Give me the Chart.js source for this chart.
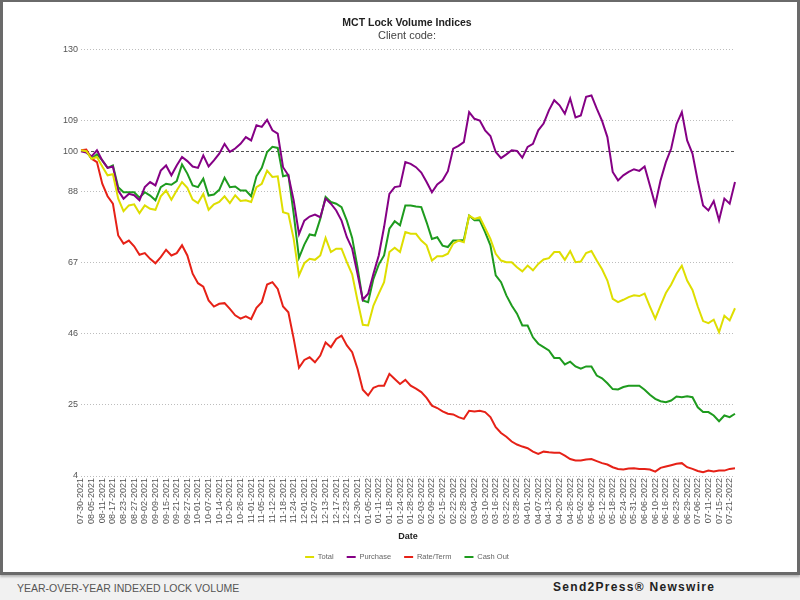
<!DOCTYPE html>
<html>
<head>
<meta charset="utf-8">
<script src="https://cdn.jsdelivr.net/npm/chart.js@4.4.1/dist/chart.umd.min.js"></script>
<style>
  html, body { margin: 0; padding: 0; width: 800px; height: 600px; overflow: hidden; background: #f1f1f1; font-family: 'Liberation Sans', Arial, sans-serif; }
  #card { position: absolute; left: 0; top: 0; width: 800px; height: 575px; box-sizing: border-box; background: #fff; border: 3px solid #6a6a6a; border-top-width: 2px; box-shadow: 0 2px 2px #b8b8b8; }
  #wrap { position: absolute; left: 3px; top: 2px; width: 794px; height: 570px; }
  #footer-left { position: absolute; left: 17px; top: 582px; font-size: 10.5px; color: #555; }
  #footer-right { position: absolute; left: 553px; top: 580px; font-size: 12px; font-weight: bold; letter-spacing: 1.3px; color: #222; }
</style>
</head>
<body>
<div id="card"></div>
<div id="wrap"><canvas id="lockChart"></canvas></div>
<div id="footer-left">YEAR-OVER-YEAR INDEXED LOCK VOLUME</div>
<div id="footer-right">Send2Press® Newswire</div>
<script>
// every 4th business day gets a tick label, data is sampled every 2nd business day
const tickLabels = [
    '07-30-2021', '08-05-2021', '08-11-2021', '08-17-2021', '08-23-2021', '08-27-2021',
    '09-02-2021', '09-09-2021', '09-15-2021', '09-21-2021', '09-27-2021',
    '10-01-2021', '10-07-2021', '10-14-2021', '10-20-2021', '10-26-2021',
    '11-01-2021', '11-05-2021', '11-12-2021', '11-18-2021', '11-24-2021',
    '12-01-2021', '12-07-2021', '12-13-2021', '12-17-2021', '12-23-2021', '12-30-2021',
    '01-05-2022', '01-11-2022', '01-18-2022', '01-24-2022', '01-28-2022',
    '02-03-2022', '02-09-2022', '02-15-2022', '02-22-2022', '02-28-2022',
    '03-04-2022', '03-10-2022', '03-16-2022', '03-22-2022', '03-28-2022',
    '04-01-2022', '04-07-2022', '04-13-2022', '04-20-2022', '04-26-2022',
    '05-02-2022', '05-06-2022', '05-12-2022', '05-18-2022', '05-24-2022', '05-31-2022',
    '06-06-2022', '06-10-2022', '06-16-2022', '06-23-2022', '06-29-2022',
    '07-06-2022', '07-11-2022', '07-15-2022', '07-21-2022'
];

const yTicks = [4, 25, 46, 67, 88, 100, 109, 130];

const total = [
    100.3, 100, 97.8, 98.3, 95.5, 92.9, 93.2, 86, 82.3, 84,
    84.3, 81.7, 84, 83, 82.7, 86.7, 88.4, 85.7, 88.4, 90.9,
    89.2, 85.7, 84.7, 87.4, 82.7, 84.3, 85, 86.7, 84.7, 87,
    85.3, 85.5, 85, 89.4, 90.4, 94.3, 92.4, 92.6, 82, 81.5,
    74.1, 63.3, 66.9, 68.2, 67.9, 69.2, 74.4, 70.2, 71.2, 71.2,
    67.2, 63.6, 55.9, 48.7, 48.5, 54.4, 57.9, 61.3, 70.2, 71.5,
    70.2, 76.1, 75.6, 75.6, 73.6, 72.2, 67.7, 69, 69, 69.7,
    72.7, 73.6, 73.1, 81, 80, 80.5, 77.3, 74.1, 69.7, 67.7,
    67.2, 67.2, 65.7, 64.5, 66.2, 64.8, 66.7, 68, 68.4, 70.2,
    70.2, 67.9, 70.5, 67.2, 67.4, 69.9, 70.5, 67.7, 65.1, 61.8,
    56.4, 55.4, 56.1, 56.9, 57.4, 57.2, 57.9, 54.1, 50.5, 54.4,
    58.1, 60.6, 63.8, 66.2, 61.8, 59, 54.1, 49.8, 49.2, 50.2,
    46.5, 51.4, 50, 53.6
];

const purchase = [
    100, 99.6, 98.5, 100.3, 97.3, 95.1, 95.5, 88.4, 86, 87.4,
    87, 85.5, 89.4, 90.9, 89.9, 94.3, 95.8, 92.9, 95.8, 98.3,
    97.1, 95.5, 95.1, 98.8, 95.5, 97.3, 99.3, 102.2, 99.8, 100.8,
    102.2, 104.2, 103.2, 107.7, 107.2, 109.3, 106.2, 105.2, 95.3, 92.9,
    85.5, 75.5, 79.5, 80.7, 81.3, 80.5, 86, 84.5, 82.5, 79.5,
    74.6, 71.2, 63.8, 56.1, 57.9, 63.8, 69.2, 77.6, 87.4, 89.4,
    89.7, 96.8, 96.3, 95.3, 93.7, 90.9, 87.9, 90.2, 91.4, 94.1,
    100.8, 101.6, 102.7, 111.6, 109.6, 109.1, 106.2, 104.5, 99.8, 98,
    99.1, 100.3, 100.1, 98.1, 101.3, 102.2, 106.2, 108.2, 112.1, 115.1,
    113.6, 111.1, 115.6, 110, 110.6, 116.1, 116.5, 112.6, 109, 104.2,
    93.9, 91.4, 92.9, 93.9, 94.7, 94.2, 95.5, 89.9, 84.2, 91.4,
    96.8, 100.8, 108, 111.6, 103.2, 99.3, 91.2, 84, 82.5, 85.3,
    79.6, 86, 84.5, 90.9
];

const rateTerm = [
    100.3, 100.5, 97.8, 96.8, 90.4, 86.7, 84.5, 75.1, 72.7, 73.6,
    71.9, 69.4, 69.9, 68.2, 66.9, 68.7, 70.9, 69.2, 69.9, 72.2,
    69.2, 63.8, 61, 60, 55.9, 54.1, 54.9, 55.1, 53.4, 51.5,
    50.5, 51.2, 50.4, 53.7, 55.4, 60.6, 61.3, 59.3, 54.1, 52.4,
    44.6, 36, 38.3, 39.1, 37.6, 39.6, 43.5, 42.1, 44.5, 45.5,
    42.6, 40.6, 35.7, 29.5, 27.8, 30.1, 30.7, 30.7, 34.2, 32.7,
    31.2, 32.4, 30.7, 29.8, 28.8, 27.1, 24.8, 24.1, 23.1, 22.4,
    22.2, 21.4, 20.9, 23.3, 23.1, 23.3, 22.9, 21.4, 18.4, 16.7,
    15.6, 14.2, 13.3, 12.7, 12.2, 11.2, 10.5, 11.2, 11, 10.9,
    10.9, 10, 9, 8.6, 8.6, 8.9, 9, 8.4, 7.8, 7.4,
    6.6, 6.1, 5.9, 6.2, 6.3, 6.1, 6.1, 5.9, 5.3, 6.4,
    6.8, 7.2, 7.6, 7.8, 6.6, 6.1, 5.5, 5.1, 5.6, 5.3,
    5.6, 5.6, 6.1, 6.3
];

const cashOut = [
    100.3, 100, 97.8, 99.1, 97.3, 95.1, 95.8, 89.4, 87.9, 87.9,
    87.9, 86.3, 87.9, 86.9, 85.5, 89.4, 90.4, 90.1, 91.2, 96.1,
    93.4, 89.9, 89.4, 91.9, 86.9, 87.2, 88.6, 92.2, 89.4, 89.6,
    88.4, 88.4, 86.7, 92.6, 95.1, 99.8, 101.3, 101, 92.6, 93,
    81.5, 68.5, 72.4, 75.4, 75.1, 80, 86.5, 85, 84.5, 83.5,
    79.5, 74.4, 65.7, 55.9, 55.4, 62.3, 66.5, 69.2, 77.1, 79.3,
    78.1, 84, 84, 83.7, 83.5, 79, 74.1, 74.6, 72.1, 71.7,
    73.6, 73.6, 73.8, 81, 79.6, 79.6, 76.1, 72.2, 63.3, 61.3,
    57.4, 54.4, 52, 48.5, 48.5, 45, 43.1, 42.1, 41.1, 38.9,
    38.9, 37, 37.8, 36.4, 35.7, 36.4, 36.4, 33.7, 32.9, 31.4,
    29.7, 29.6, 30.3, 30.7, 30.7, 30.7, 29.5, 28, 26.8, 26.1,
    25.8, 26.3, 27.5, 27.3, 27.6, 27.3, 24.3, 22.9, 22.9, 21.9,
    20.2, 21.9, 21.4, 22.4
];

// one category per sample, only the even ones carry a date
const labels = total.map((v, i) => (i % 2 === 0 ? tickLabels[i / 2] : ''));

Chart.defaults.font.family = "'Liberation Sans', Arial, sans-serif";
Chart.defaults.color = '#555';

function series(label, data, color) {
    return { label: label, data: data, borderColor: color, backgroundColor: color, borderWidth: 2, pointRadius: 0, tension: 0 };
}

new Chart(document.getElementById('lockChart'), {
    type: 'line',
    data: {
        labels: labels,
        datasets: [
            series('Total', total, '#dede00'),
            series('Purchase', purchase, '#850085'),
            series('Rate/Term', rateTerm, '#e62117'),
            series('Cash Out', cashOut, '#1e9b1e')
        ]
    },
    options: {
        responsive: true,
        maintainAspectRatio: false,
        animation: false,
        layout: { padding: { left: 14, right: 0, top: 15, bottom: 1.25 } },
        plugins: {
            title: {
                display: true, text: 'MCT Lock Volume Indices', color: '#222',
                font: { size: 10.5, weight: 'bold' }, padding: { top: 0, bottom: 0 }
            },
            subtitle: {
                display: true, text: 'Client code:', color: '#444',
                font: { size: 11 }, padding: { top: 0, bottom: 7 }
            },
            legend: {
                position: 'bottom',
                labels: {
                    usePointStyle: true, pointStyle: 'line', pointStyleWidth: 9,
                    padding: 13, color: '#666', font: { size: 7.5 }
                }
            },
            tooltip: { enabled: false }
        },
        scales: {
            x: {
                grid: { display: false, drawTicks: false },
                border: { display: false },
                ticks: { autoSkip: false, maxRotation: 90, minRotation: 90, padding: 2, color: '#555', font: { size: 9 } },
                title: { display: true, text: 'Date', color: '#222', font: { size: 9, weight: 'bold' }, padding: { top: 0, bottom: -2 } },
                afterFit: (s) => { s.height = 64.25; }
            },
            y: {
                min: 4,
                max: 130,
                afterBuildTicks: (s) => { s.ticks = yTicks.map(v => ({ value: v })); },
                grid: {
                    drawTicks: false,
                    color: (ctx) => (ctx.tick && ctx.tick.value === 100 ? '#555' : '#bdbdbd')
                },
                border: {
                    display: false,
                    dash: (ctx) => (ctx.tick && ctx.tick.value === 100 ? [3, 2] : [1, 2])
                },
                ticks: { padding: 3, color: '#555', font: { size: 9 } },
                afterFit: (s) => { s.width = 64; }
            },
            // empty axis on the right, only to hold the plot's right margin
            yr: {
                type: 'linear',
                position: 'right',
                display: true,
                grid: { display: false },
                border: { display: false },
                ticks: { display: false },
                afterFit: (s) => { s.width = 62; }
            }
        }
    }
});
</script>
</body>
</html>
